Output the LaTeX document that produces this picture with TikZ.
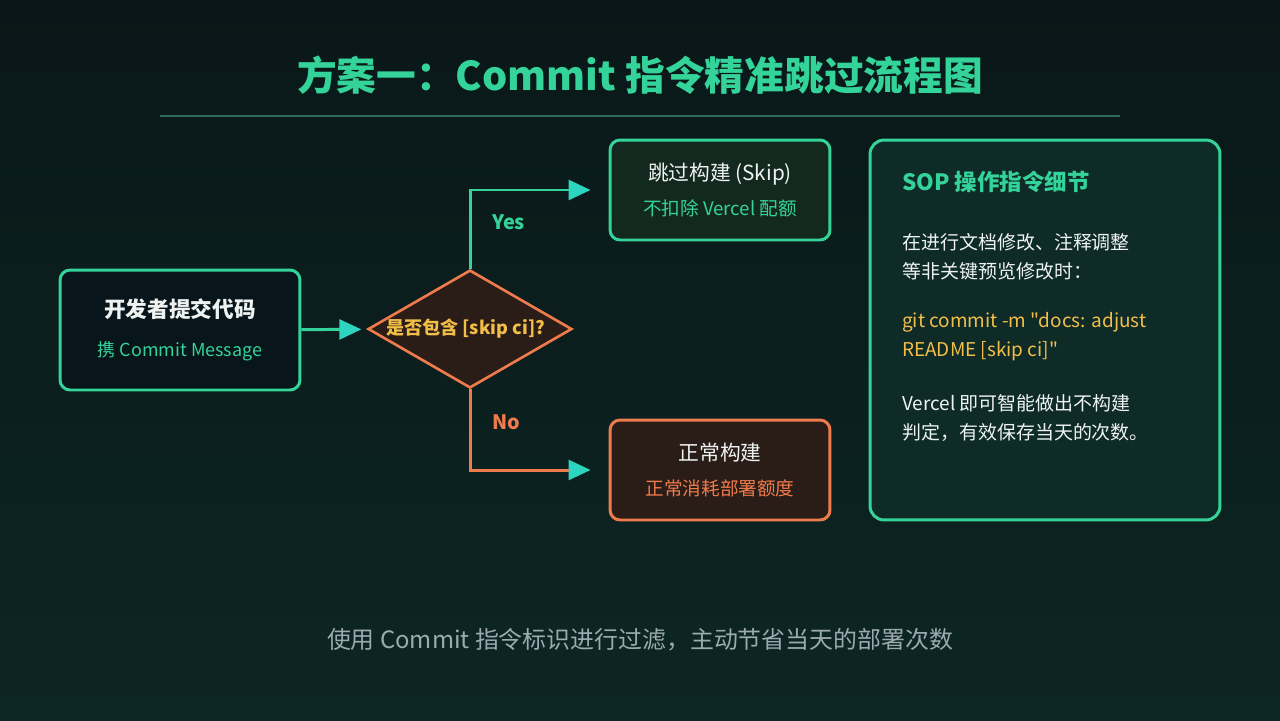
\documentclass[tikz,border=0pt]{standalone}
\usepackage{fontspec}
\setmainfont{Noto Sans CJK SC}[Ligatures=TeXOff]
\usetikzlibrary{arrows.meta,positioning,shapes.geometric}
\definecolor{bgdark}{HTML}{0A1718}
\definecolor{bgteal}{HTML}{0C2623}
\definecolor{mint}{HTML}{34D399}
\definecolor{tealhead}{HTML}{2DD4BF}
\definecolor{coral}{HTML}{EE7B4C}
\definecolor{amber}{HTML}{F2BE48}
\definecolor{rulegreen}{HTML}{2C6B57}
\definecolor{boxdark}{HTML}{08151A}
\definecolor{skipfill}{HTML}{13291F}
\definecolor{buildfill}{HTML}{2A1D17}
\definecolor{panelfill}{HTML}{0E2B28}
\definecolor{paper}{HTML}{EEF3F2}
\definecolor{capgray}{HTML}{9AAAB0}

\begin{document}
\begin{tikzpicture}[
    x=0.02cm,y=-0.02cm,
    card/.style={draw=#1,line width=1.7pt,rounded corners=0.2cm,
      minimum width=4.4cm,minimum height=2cm,align=center,inner sep=2pt},
    decide/.style={diamond,draw=coral,fill=buildfill,line width=1.5pt,
      shape aspect=1.73,minimum width=4.08cm,minimum height=2.36cm,inner sep=1pt,
      font=\fontsize{10.3}{12}\selectfont\bfseries,text=amber},
    flow/.style={draw=#1,line width=1.7pt,
      -{Triangle[length=0.44cm,width=0.4cm,color=tealhead]}},
    branch/.style={font=\fontsize{11.3}{13}\selectfont\bfseries,text=#1,anchor=west},
    paneltext/.style={anchor=west,align=left,text=#1,
      font=\fontsize{10.8}{16.4}\selectfont},
  ]

  % background
  \shade[top color=bgdark,bottom color=bgteal] (0,0) rectangle (1280,720);

  \node[font=\fontsize{22.6}{28}\selectfont\bfseries,text=mint] (title) at (640,75)
    {方案一：Commit 指令精准跳过流程图};
  \draw[rulegreen,line width=1.1pt] (160,116) -- (1120,116);

  \node[card=mint,fill=boxdark,minimum width=4.8cm,minimum height=2.4cm] (commit) at (180,330)
    {{\fontsize{12.3}{15}\selectfont\bfseries\color{paper}开发者提交代码}\\[10pt]
     {\fontsize{10.2}{13}\selectfont\color{mint}携 Commit Message}};

  \node[decide] (check) at (470,329) {\hspace*{-5pt}是否包含 [skip ci]?};

  \node[card=mint,fill=skipfill] (skip) at (720,190)
    {{\fontsize{11.8}{14}\selectfont\color{paper}跳过构建 (Skip)}\\[8pt]
     {\fontsize{10.6}{13}\selectfont\color{mint}不扣除 Vercel 配额}};
  \node[card=coral,fill=buildfill] (build) at (720,470)
    {{\fontsize{11.8}{14}\selectfont\color{paper}正常构建}\\[8pt]
     {\fontsize{10.6}{13}\selectfont\color{coral}正常消耗部署额度}};

  \draw[flow=mint,shorten >=0.12cm] (commit) -- (check);
  \draw[flow=mint,shorten >=0.36cm] (check.north) |- (skip.west);
  \draw[flow=coral,shorten >=0.36cm] (check.south) |- (build.west);
  \node[branch=mint] (yes) at (486,222) {Yes};
  \node[branch=coral] (no) at (486,422) {No};

  % SOP panel
  \node[draw=mint,fill=panelfill,line width=1.7pt,rounded corners=0.28cm,
        minimum width=7cm,minimum height=7.6cm] (sop) at (1045,330) {};
  \node[anchor=west,text=mint,font=\fontsize{12.8}{15}\selectfont\bfseries]
    (soptitle) at (896,182) {SOP 操作指令细节};
  \node[paneltext=paper] (sopwhen) at (896,257)
    {在进行文档修改、注释调整\\等非关键预览修改时：};
  \node[paneltext=amber] (sopcmd) at (896,337)
    {git commit -m "docs: adjust\\README [skip ci]"};
  \node[paneltext=paper] (sopresult) at (896,418)
    {Vercel 即可智能做出不构建\\判定，有效保存当天的次数。};

  \node[text=capgray,font=\fontsize{13.6}{16}\selectfont] (caption) at (640,640)
    {使用 Commit 指令标识进行过滤，主动节省当天的部署次数};

\end{tikzpicture}
\end{document}
